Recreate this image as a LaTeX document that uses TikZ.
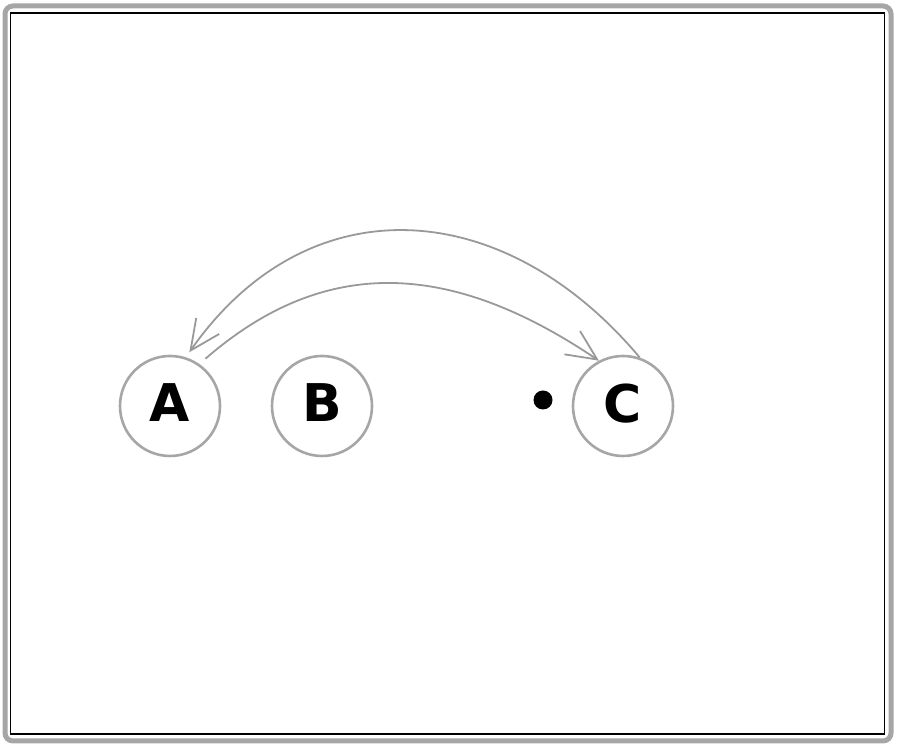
\documentclass[tikz,border=0pt]{standalone}
\usepackage{fontspec}
\setsansfont{DejaVu Sans}
\usepackage{tikz}
\usetikzlibrary{arrows.meta}

\begin{document}
\begin{tikzpicture}[x=0.5pt, y=0.5pt,
        statenode/.style={circle, draw=gray!70, line width=1.3pt, minimum size=50pt, inner sep=0pt, text depth=3pt,
            font=\sffamily\bfseries\fontsize{26}{30}\selectfont},
        dotnode/.style={circle, fill=black, minimum size=9.5pt, inner sep=0pt},
        link/.style={draw=gray!80, line width=0.9pt, line join=round, -{Straight Barb[length=15pt, width=14pt, line width=0.9pt]}}]
            \useasboundingbox (0,0) rectangle (900,747);
            \draw[gray!70, line width=2.5pt, rounded corners=4pt] (5,6) rectangle (891,741); % outer frame
            \draw[black, line width=0.7pt] (10.5,13) rectangle (884.5,734); % inner frame
            \node[statenode] (A) at (170,341) {A};
            \node[statenode] (B) at (322,341) {B};
            \node[statenode] (C) at (623,341) {C};
            \node[dotnode] (dot) at (543,347) {};
            \draw[link, shorten >=3pt] (C.71) to[out=130, in=55, looseness=1.2] (A.72); % C back to A
            \draw[link, shorten <=4pt] (A.55) to[out=41, in=146, looseness=1.1] (C.118); % A to C
        \end{tikzpicture}
\end{document}
